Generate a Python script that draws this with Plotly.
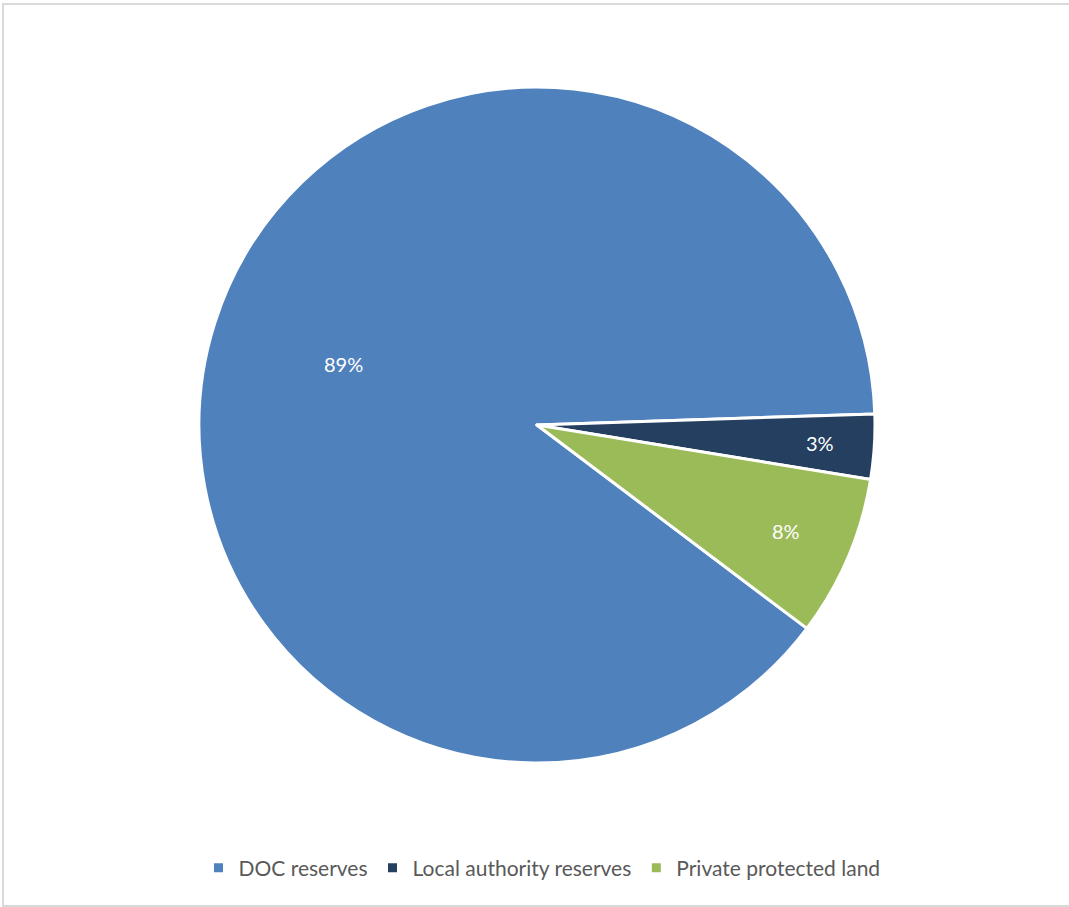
import math
import plotly.graph_objects as go

categories = ["DOC reserves", "Local authority reserves", "Private protected land"]
values = [89.2, 3.1, 7.7]
colors = ["#4F81BD", "#243F60", "#9BBB59"]

W, H = 1069, 907
cx, cy, r = 537, 425, 338
ROTATION = 127
label_radius = [0.60, 0.84, 0.80]   # fraction of pie radius for each percentage label

fig = go.Figure(go.Pie(
    labels=categories,
    values=values,
    sort=False,
    direction="clockwise",
    rotation=ROTATION,
    marker=dict(colors=colors, line=dict(color="white", width=3)),
    textinfo="none",
    hoverinfo="label+percent",
    domain=dict(x=[(cx - r) / W, (cx + r) / W], y=[1 - (cy + r) / H, 1 - (cy - r) / H]),
))

# percentage labels placed at each slice's mid-angle (computed from the data)
total = sum(values)
annotations = []
start = ROTATION
for v, f in zip(values, label_radius):
    span = 360 * v / total
    mid = math.radians(start + span / 2)
    start += span
    px = cx + f * r * math.sin(mid)
    py = cy - f * r * math.cos(mid)
    annotations.append(dict(
        x=px / W, y=1 - py / H, xref="paper", yref="paper",
        text=f"{round(100 * v / total)}%", showarrow=False,
        font=dict(family="Lato", size=20, color="white"),
        xanchor="center", yanchor="middle",
    ))

fig.update_layout(
    width=W, height=H,
    margin=dict(l=0, r=0, t=0, b=0),
    paper_bgcolor="white",
    showlegend=True,
    legend=dict(
        orientation="h", x=0.507, xanchor="center", y=1 - 868 / H, yanchor="middle",
        font=dict(family="Lato", size=21, color="#595959"),
        itemwidth=30,
    ),
    annotations=annotations,
    shapes=[dict(type="rect", xref="paper", yref="paper",
                 x0=3 / W, x1=1.01, y0=1 - 906 / H, y1=1 - 4 / H,
                 line=dict(color="#D9D9D9", width=2), fillcolor="rgba(0,0,0,0)")],
)

fig.write_html("out.html")
